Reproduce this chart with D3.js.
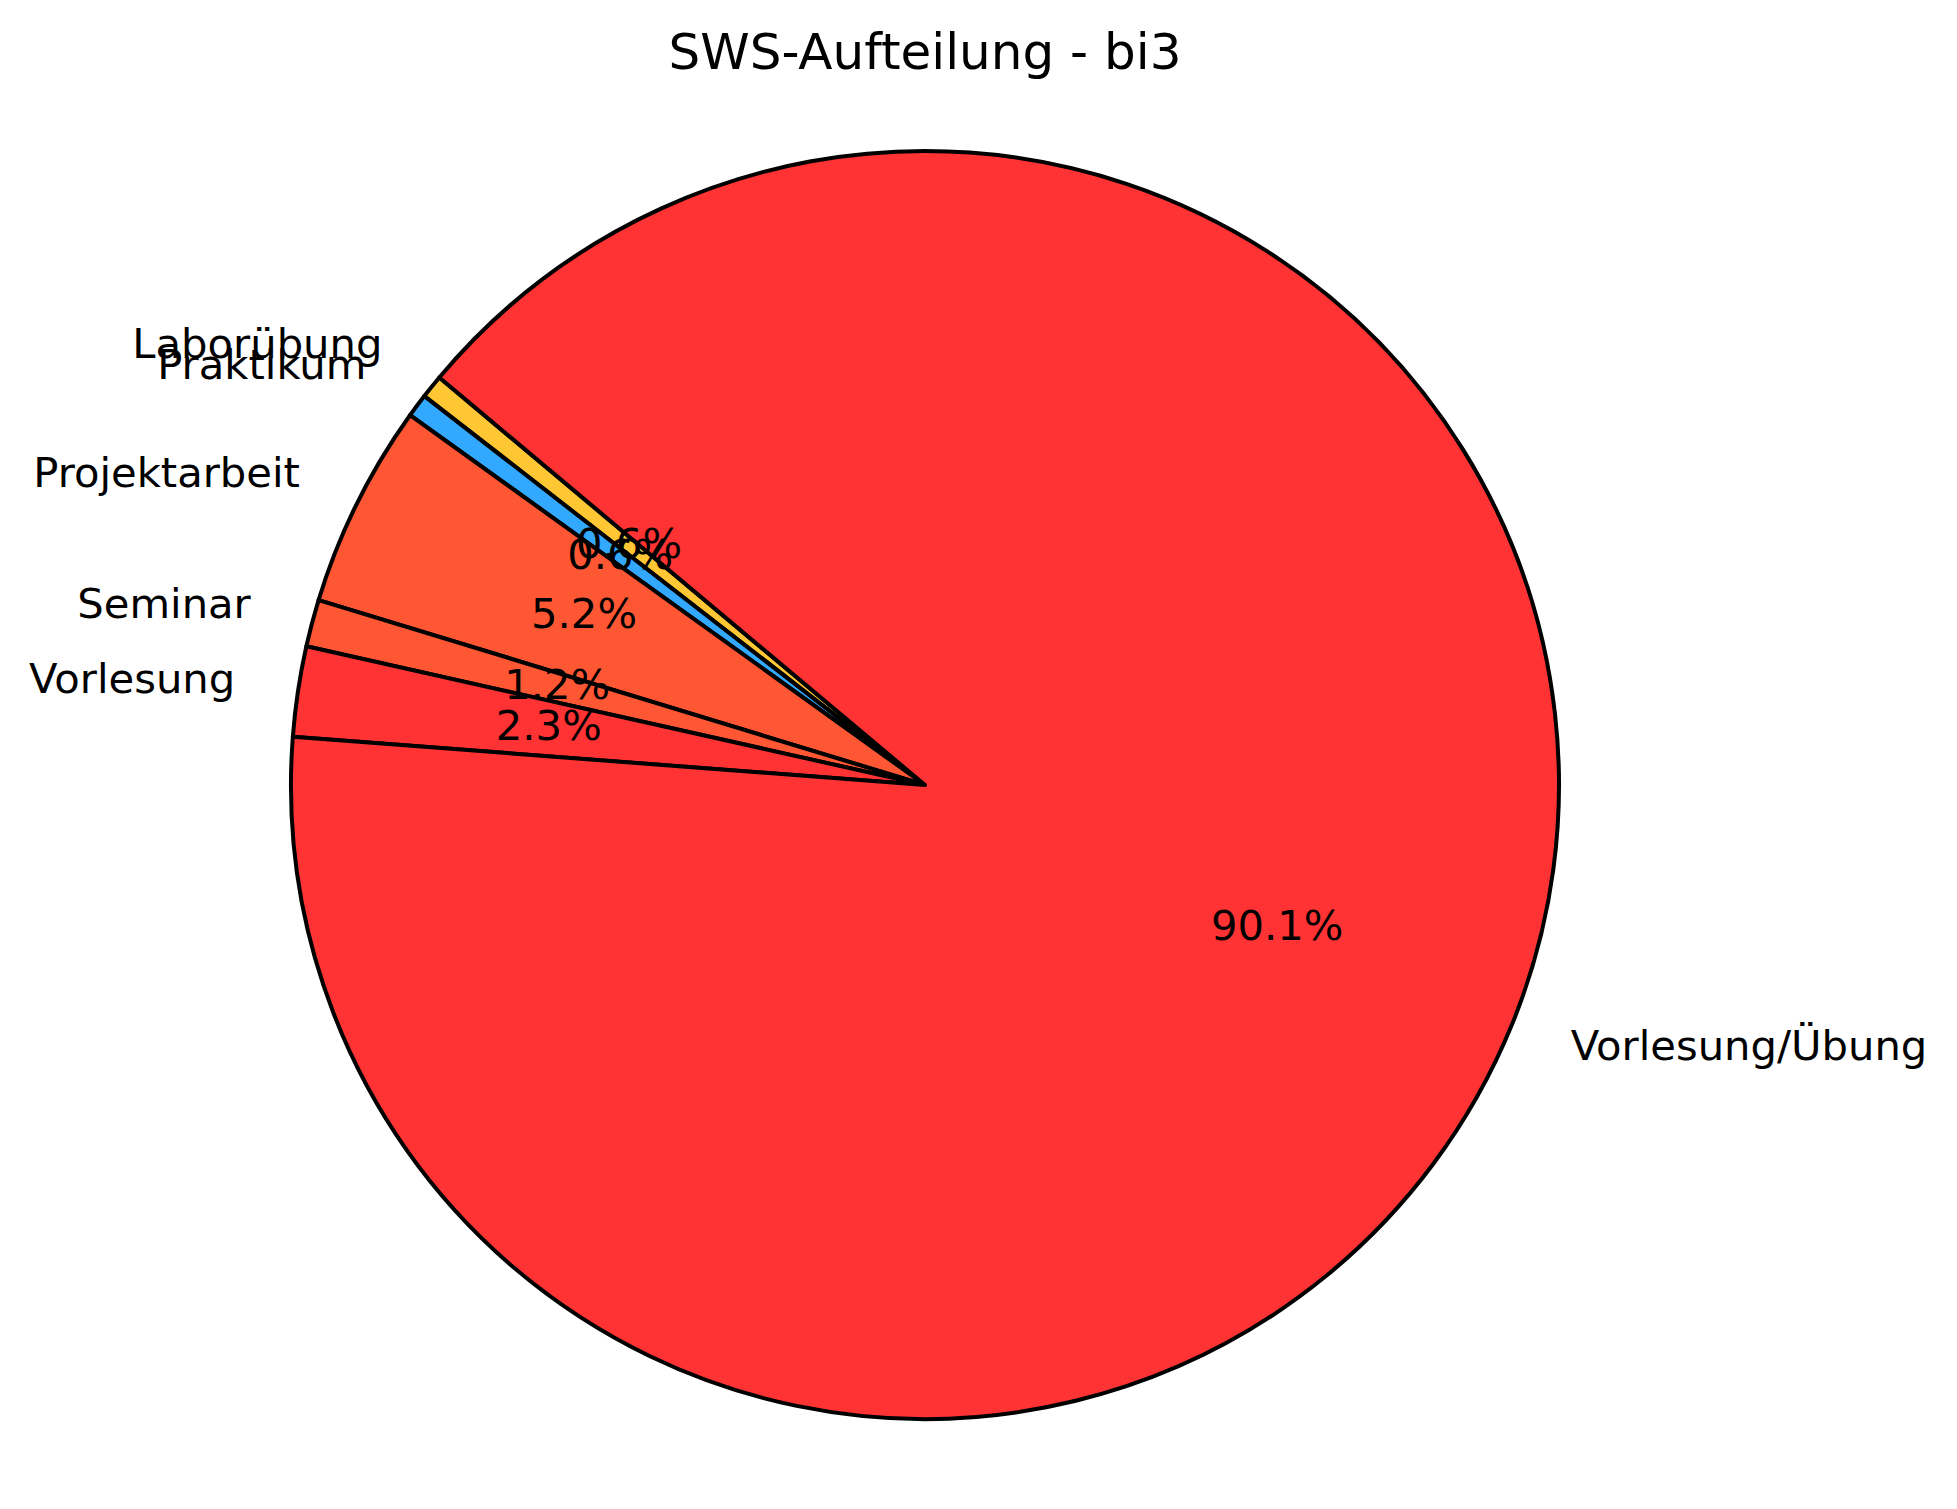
<!DOCTYPE html>
<html>
<head>
<meta charset="utf-8">
<title>SWS-Aufteilung - bi3</title>
<style>
  body { margin: 0; background: #fff; }
  text { font-family: "DejaVu Sans", sans-serif; fill: #000; }
  .title { font-size: 50px; }
  .label { font-size: 41.7px; }
  .pct { font-size: 41.7px; }
</style>
<script src="https://cdn.jsdelivr.net/npm/d3@7"></script>
</head>
<body>
<script>
// categories and shares (percent) in plotting order
var categories = ["Laborübung", "Praktikum", "Projektarbeit", "Seminar", "Vorlesung", "Vorlesung/Übung"];
var shares = [0.6, 0.6, 5.2, 1.2, 2.3, 90.1];
var colors = ["#ffc733", "#33a8ff", "#ff5733", "#ff5733", "#ff3333", "#ff3333"];

var width = 1957, height = 1509,
    cx = 925, cy = 785, radius = 634;

var data = categories.map(function(c, i) { return {name: c, value: shares[i], color: colors[i]}; });

var svg = d3.select("body").append("svg")
    .attr("width", width)
    .attr("height", height);

svg.append("text")
   .attr("class", "title")
   .attr("x", cx)
   .attr("y", 69)
   .attr("text-anchor", "middle")
   .text("SWS-Aufteilung - bi3");

// matplotlib style: start at 140 deg, counterclockwise
var start = (90 - 140) * Math.PI / 180;
var pie = d3.pie()
    .sort(null)
    .value(function(d) { return d.value; })
    .startAngle(start)
    .endAngle(start - 2 * Math.PI);

var arcs = pie(data);
var arc = d3.arc().innerRadius(0).outerRadius(radius);

var g = svg.append("g").attr("transform", "translate(" + cx + "," + cy + ")");

g.selectAll("path")
 .data(arcs)
 .enter()
 .append("path")
 .attr("d", arc)
 .attr("fill", function(d) { return d.data.color; })
 .attr("stroke", "#000")
 .attr("stroke-width", 4)
 .attr("stroke-linejoin", "round");

function mid(d) { return (d.startAngle + d.endAngle) / 2; }

g.selectAll(".label")
 .data(arcs)
 .enter()
 .append("text")
 .attr("class", "label")
 .attr("x", function(d) { return Math.sin(mid(d)) * radius * 1.1; })
 .attr("y", function(d) { return -Math.cos(mid(d)) * radius * 1.1 - 3; })
 .attr("dominant-baseline", "central")
 .attr("text-anchor", function(d) { return Math.sin(mid(d)) < 0 ? "end" : "start"; })
 .text(function(d) { return d.data.name; });

g.selectAll(".pct")
 .data(arcs)
 .enter()
 .append("text")
 .attr("class", "pct")
 .attr("x", function(d) { return Math.sin(mid(d)) * radius * 0.6; })
 .attr("y", function(d) { return -Math.cos(mid(d)) * radius * 0.6 - 3; })
 .attr("dominant-baseline", "central")
 .attr("text-anchor", "middle")
 .text(function(d) { return d.data.value.toFixed(1) + "%"; });
</script>
</body>
</html>
